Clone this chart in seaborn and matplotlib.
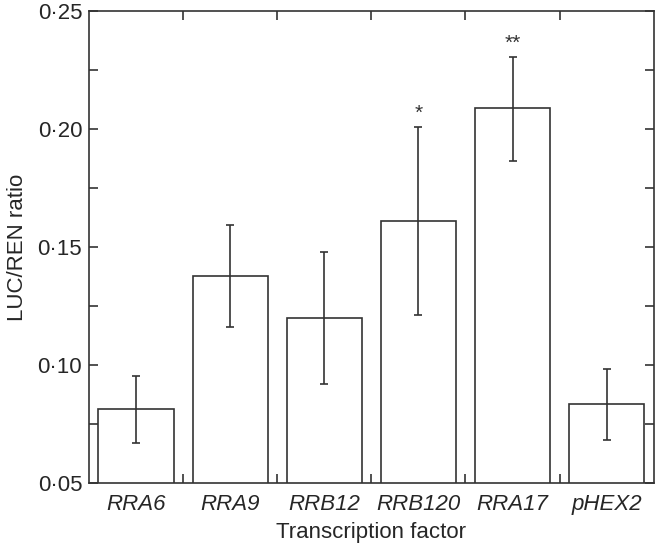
import numpy as np
import pandas as pd
import matplotlib
matplotlib.use("Agg")
import matplotlib.pyplot as plt
import seaborn as sns
from matplotlib.ticker import MultipleLocator, FixedLocator, FuncFormatter

# data
factors = ["RRA6", "RRA9", "RRB12", "RRB120", "RRA17", "pHEX2"]
ratio = [0.0814, 0.1377, 0.1200, 0.1612, 0.2089, 0.0835]
err_low = [0.0670, 0.1162, 0.0918, 0.1210, 0.1864, 0.0682]
err_high = [0.0953, 0.1593, 0.1478, 0.2010, 0.2306, 0.0985]
stars = ["", "", "", "*", "**", ""]

sns.set_style("ticks")
plt.rcParams["font.family"] = ["Liberation Sans", "DejaVu Sans"]

df = pd.DataFrame({"factor": factors, "ratio": ratio})
ink = "#333333"

fig = plt.figure(figsize=(6.55, 5.44), dpi=100)
ax = fig.add_axes([0.136, 0.112, 0.862, 0.868])

sns.barplot(data=df, x="factor", y="ratio", color="white", edgecolor=ink,
            linewidth=1.2, width=0.8, errorbar=None, ax=ax)

x = np.arange(len(factors))
yerr = [np.array(ratio) - np.array(err_low), np.array(err_high) - np.array(ratio)]
ax.errorbar(x, ratio, yerr=yerr, fmt="none", ecolor=ink, elinewidth=1.2,
            capsize=3, capthick=1.2)

for xi, hi, s in zip(x, err_high, stars):
    if s:
        ax.text(xi, hi + 0.0015, s, ha="center", va="bottom", fontsize=15, color=ink)

ax.set_ylim(0.05, 0.25)
ax.set_xlim(-0.5, len(factors) - 0.5)
ax.yaxis.set_major_locator(MultipleLocator(0.05))
ax.yaxis.set_minor_locator(MultipleLocator(0.025))
ax.yaxis.set_major_formatter(FuncFormatter(lambda v, p: f"{v:.2f}".replace(".", "\u00b7")))
ax.xaxis.set_minor_locator(FixedLocator(np.arange(0.5, len(factors) - 0.5, 1)))

for s in ax.spines.values():
    s.set_color(ink)
    s.set_linewidth(1.2)
    s.set_visible(True)

ax.tick_params(axis="y", which="both", direction="in", length=6.5, width=1.2,
               left=True, right=True, color=ink, labelsize=16, pad=5)
ax.tick_params(axis="x", which="major", length=0, labelsize=16, pad=8)
ax.tick_params(axis="x", which="minor", direction="in", length=6.5, width=1.2,
               bottom=True, top=True, color=ink)
for lab in ax.get_xticklabels():
    lab.set_fontstyle("italic")

ax.set_xlabel("Transcription factor", fontsize=16, labelpad=5)
ax.set_ylabel("LUC/REN ratio", fontsize=16, labelpad=7)

fig.savefig("out.png", dpi=100)
